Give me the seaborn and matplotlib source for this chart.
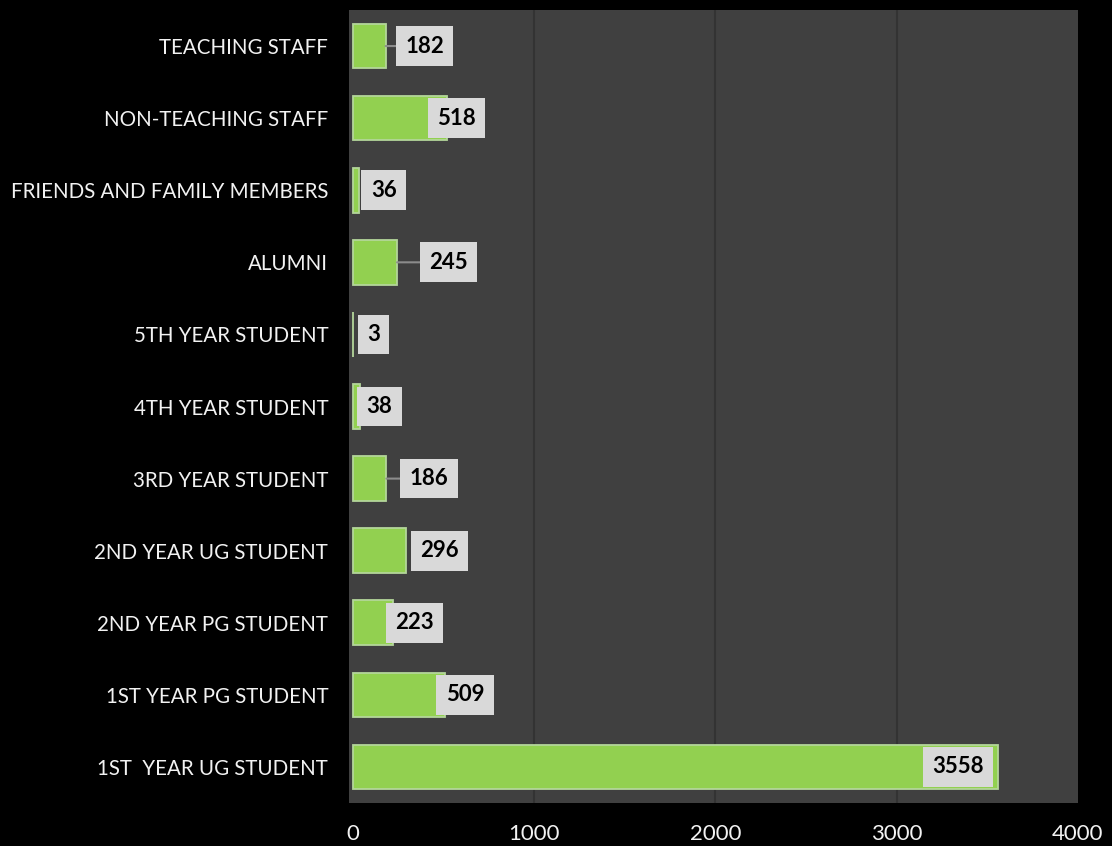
import matplotlib
matplotlib.use("Agg")
import matplotlib.pyplot as plt
import seaborn as sns
import pandas as pd

categories = ["TEACHING STAFF", "NON-TEACHING STAFF", "FRIENDS AND FAMILY MEMBERS",
              "ALUMNI", "5TH YEAR STUDENT", "4TH YEAR STUDENT", "3RD YEAR STUDENT",
              "2ND YEAR UG STUDENT", "2ND YEAR PG STUDENT", "1ST YEAR PG STUDENT",
              "1ST  YEAR UG STUDENT"]
values = [182, 518, 36, 245, 3, 38, 186, 296, 223, 509, 3558]
x_ticks = [0, 1000, 2000, 3000, 4000]

# label placement (pixel offset of label-box centre from bar end) and leader lines
label_offsets_px = [39, 10, 24.5, 51.5, 20.5, 20, 42.5, 33, 21.5, 20, -40]
leader = [True, False, False, True, False, False, True, False, False, False, False]

df = pd.DataFrame({"category": categories, "value": values})

sns.set_theme(style="dark")
plt.rcParams["font.family"] = ["Lato", "DejaVu Sans"]

fig = plt.figure(figsize=(11.12, 8.46), dpi=100, facecolor="black")
ax = fig.add_axes([349/1112, 1-803/846, (1078-349)/1112, (803-10)/846])
ax.set_facecolor("#404040")

sns.barplot(data=df, x="value", y="category", orient="h", ax=ax,
            color="#92D050", saturation=1, width=0.62,
            edgecolor="#B4D69A", linewidth=1.3, zorder=3)

ax.set_xlim(-20, 4000)
ax.set_ylim(len(categories) - 0.5, -0.5)
ax.set_xticks(x_ticks)
ax.set_xticklabels([str(t) for t in x_ticks])
ax.tick_params(axis="x", colors="white", labelsize=16, pad=15, length=0)
ax.tick_params(axis="y", colors="white", labelsize=14.8, pad=15, length=0)
for lab in ax.get_xticklabels() + ax.get_yticklabels():
    lab.set_color("#F2F2F2")
ax.set_xlabel("")
ax.set_ylabel("")
ax.grid(False)
for x in x_ticks[1:-1]:
    ax.axvline(x, color="#333333", lw=1.5, zorder=1)
for s in ax.spines.values():
    s.set_visible(False)

for i, (v, off, ld) in enumerate(zip(values, label_offsets_px, leader)):
    kw = {}
    if ld:
        kw["arrowprops"] = dict(arrowstyle="-", color="#8C8C8C", lw=1.5,
                                shrinkA=0, shrinkB=0)
    ax.annotate(str(v), xy=(v, i), xytext=(off * 0.72, 0),
                textcoords="offset points", ha="center", va="center",
                fontsize=16, fontweight="bold", color="black",
                bbox=dict(boxstyle="square,pad=0.42", fc="#D9D9D9", ec="none"),
                zorder=5, **kw)

fig.savefig("out.png", dpi=100, facecolor="black")
